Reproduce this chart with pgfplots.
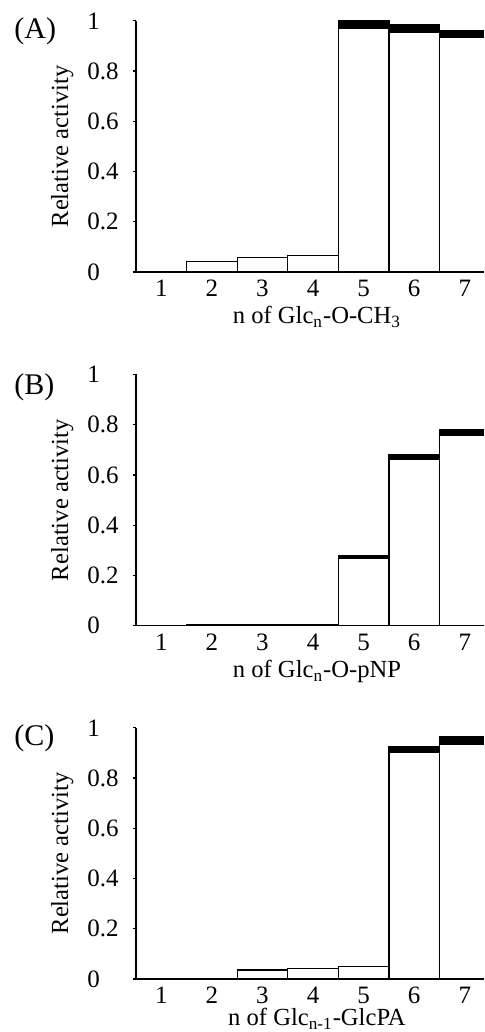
\documentclass[border=0pt]{standalone}
\usepackage{fontspec}
\setmainfont{Liberation Serif}
\usepackage{pgfplots}
\pgfplotsset{compat=1.18}

\pgfplotsset{
  panel/.style={
    scale only axis, width=174pt, height=125.6pt,
    xmin=0.5, xmax=7.38, ymin=0, ymax=1,
    axis x line*=bottom, axis y line*=left,
    axis line style={-, line width=0.6pt},
    ytick={0,0.2,0.4,0.6,0.8,1},
    yticklabels={0,0.2,0.4,0.6,0.8,1},
    xtick={1,...,7},
    tick align=outside, major tick length=1.5pt,
    tick style={line width=0.6pt, black},
    xtick style={draw=none},
    /pgf/number format/assume math mode=true,
    ticklabel style={font=\fontsize{12.5}{15}\selectfont},
    yticklabel style={anchor=west, inner sep=0pt, xshift=-23pt},
    xticklabel style={inner sep=0pt, yshift=-2.5pt},
    label style={font=\fontsize{12.3}{15}\selectfont},
    ylabel={Relative activity},
    ylabel style={at={(axis description cs:-0.212,0.5)}, anchor=center},
    xlabel style={at={(axis description cs:0.52,0)}, anchor=north, inner sep=0pt, yshift=-17pt},
    ybar stacked, bar width=1,
  },
  base/.style={fill=white, draw=black, line width=0.6pt},
  top/.style={fill=black, draw=black, line width=0.6pt},
}

\begin{document}
\begin{tikzpicture}
\useasboundingbox (0,0) rectangle (242pt,516pt);

% (A)
\begin{axis}[panel, at={(68pt,380pt)}, anchor=south west,
  xlabel={n of Glc\textsubscript{n}-O-CH\textsubscript{3}}]
\addplot[base] coordinates {(1,0) (2,0.043) (3,0.057) (4,0.065) (5,0.971) (6,0.955) (7,0.934)};
\addplot[top] coordinates {(1,0) (2,0) (3,0) (4,0) (5,0.029) (6,0.029) (7,0.027)};
\end{axis}

% (B)
\begin{axis}[panel, at={(68pt,203.15pt)}, anchor=south west,
  xlabel={n of Glc\textsubscript{n}-O-pNP}]
\addplot[base] coordinates {(1,0) (2,0.005) (3,0.005) (4,0.005) (5,0.268) (6,0.662) (7,0.756)};
\addplot[top] coordinates {(1,0) (2,0) (3,0) (4,0) (5,0.010) (6,0.019) (7,0.025)};
\end{axis}

% (C) - label raised a little so the subscript stays on the page
\begin{axis}[panel, at={(68pt,26.5pt)}, anchor=south west,
  xlabel style={yshift=2.5pt},
  xlabel={n of Glc\textsubscript{n-1}-GlcPA}]
\addplot[base] coordinates {(1,0) (2,0) (3,0.036) (4,0.041) (5,0.049) (6,0.904) (7,0.935)};
\addplot[top] coordinates {(1,0) (2,0) (3,0) (4,0) (5,0) (6,0.023) (7,0.029)};
\end{axis}

\node[anchor=west, inner sep=0pt, font=\fontsize{15}{18}\selectfont] at (7pt,500.15pt) {(A)};
\node[anchor=west, inner sep=0pt, font=\fontsize{15}{18}\selectfont] at (7pt,322.5pt) {(B)};
\node[anchor=west, inner sep=0pt, font=\fontsize{15}{18}\selectfont] at (7pt,146.85pt) {(C)};
\end{tikzpicture}
\end{document}
